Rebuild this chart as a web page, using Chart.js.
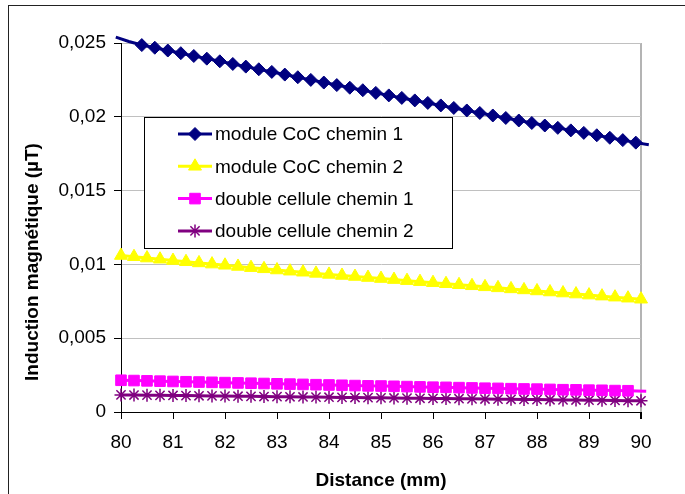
<!DOCTYPE html>
<html>
<head>
<meta charset="utf-8">
<script src="https://cdn.jsdelivr.net/npm/chart.js@4.4.0/dist/chart.umd.min.js"></script>
<style>
  body { margin: 0; background: #fff; }
  #wrap { position: relative; width: 685px; height: 494px; overflow: hidden; }
  #frame { position: absolute; left: 8px; top: 5px; width: 800px; height: 600px;
           border-left: 1px solid #222; border-top: 1px solid #222; pointer-events: none; }
</style>
</head>
<body>
<div id="wrap">
  <canvas id="chart" width="685" height="494"></canvas>
  <div id="frame"></div>
</div>
<script>
// distances (mm)
const distance = [80, 80.25, 80.5, 80.75, 81, 81.25, 81.5, 81.75, 82, 82.25, 82.5, 82.75,
  83, 83.25, 83.5, 83.75, 84, 84.25, 84.5, 84.75, 85, 85.25, 85.5, 85.75, 86, 86.25,
  86.5, 86.75, 87, 87.25, 87.5, 87.75, 88, 88.25, 88.5, 88.75, 89, 89.25, 89.5, 89.75, 90];
const cocPath1Distance = [79.9, 80.15, 80.4, 80.65, 80.9, 81.15, 81.4, 81.65, 81.9, 82.15,
  82.4, 82.65, 82.9, 83.15, 83.4, 83.65, 83.9, 84.15, 84.4, 84.65, 84.9, 85.15, 85.4,
  85.65, 85.9, 86.15, 86.4, 86.65, 86.9, 87.15, 87.4, 87.65, 87.9, 88.15, 88.4, 88.65,
  88.9, 89.15, 89.4, 89.65, 89.9, 90.15];
const cellPath1Distance = [80, 80.25, 80.5, 80.75, 81, 81.25, 81.5, 81.75, 82, 82.25, 82.5,
  82.75, 83, 83.25, 83.5, 83.75, 84, 84.25, 84.5, 84.75, 85, 85.25, 85.5, 85.75, 86,
  86.25, 86.5, 86.75, 87, 87.25, 87.5, 87.75, 88, 88.25, 88.5, 88.75, 89, 89.25, 89.5,
  89.75, 90.1];

// induction (µT)
const cocPath1 = [0.0254, 0.0251, 0.02486, 0.02468, 0.02449, 0.02431, 0.02412, 0.02394,
  0.02376, 0.02358, 0.0234, 0.02322, 0.02304, 0.02286, 0.02268, 0.0225, 0.02232, 0.02215,
  0.02197, 0.0218, 0.02162, 0.02145, 0.02128, 0.02111, 0.02094, 0.02077, 0.0206, 0.02043,
  0.02026, 0.02009, 0.01992, 0.01975, 0.01958, 0.01941, 0.01925, 0.01908, 0.01891,
  0.01875, 0.01858, 0.01842, 0.01825, 0.0181];
const cocPath2 = [0.0106, 0.01052, 0.01043, 0.01035, 0.01026, 0.01018, 0.0101, 0.01002,
  0.00994, 0.00986, 0.00978, 0.0097, 0.00962, 0.00954, 0.00947, 0.00939, 0.00932, 0.00925,
  0.00918, 0.00911, 0.00904, 0.00897, 0.0089, 0.00883, 0.00876, 0.00869, 0.00862, 0.00855,
  0.00848, 0.00841, 0.00834, 0.00827, 0.0082, 0.00813, 0.00806, 0.00799, 0.00792, 0.00785,
  0.00778, 0.00771, 0.00764];
const cellPath1 = [0.00215, 0.00213, 0.00211, 0.00209, 0.00207, 0.00205, 0.00203, 0.00201,
  0.00199, 0.00197, 0.00195, 0.00193, 0.00191, 0.00189, 0.00187, 0.00185, 0.00183, 0.00181,
  0.00179, 0.00177, 0.00176, 0.00174, 0.00172, 0.0017, 0.00168, 0.00167, 0.00165, 0.00163,
  0.00161, 0.0016, 0.00158, 0.00156, 0.00155, 0.00153, 0.00151, 0.0015, 0.00148, 0.00147,
  0.00145, 0.00144, 0.00141];
const cellPath2 = [0.00116, 0.00115, 0.00114, 0.00113, 0.00112, 0.00111, 0.0011, 0.00109,
  0.00108, 0.00107, 0.00106, 0.00105, 0.00104, 0.00103, 0.00102, 0.00101, 0.001, 0.00099,
  0.00098, 0.00097, 0.00096, 0.00095, 0.00094, 0.00093, 0.00092, 0.00091, 0.0009, 0.00089,
  0.00088, 0.00087, 0.00086, 0.00085, 0.00084, 0.00083, 0.00082, 0.00081, 0.0008, 0.00079,
  0.00078, 0.00077, 0.00076];

const seriesNames = ['module CoC chemin 1', 'module CoC chemin 2',
  'double cellule chemin 1', 'double cellule chemin 2'];
const xTitle = 'Distance (mm)';
const yTitle = 'Induction magnétique (µT)';

const FONT = '"Liberation Sans", Arial, sans-serif';
Chart.defaults.font.family = FONT;
Chart.defaults.color = '#000';

const toPoints = (xs, ys) => xs.map((x, i) => ({ x: x, y: ys[i] }));

// Excel does not draw markers that fall outside the plot area
const markerRadius = (r) => (ctx) => {
  const p = ctx.raw;
  if (!p || p.x < 80 || p.x > 90 || p.y > 0.025) return 0;
  return r;
};

const makeSet = (label, data, color, style, r, bw) => ({
  label: label,
  data: data,
  borderColor: color,
  backgroundColor: color,
  pointBackgroundColor: color,
  pointBorderColor: color,
  pointBorderWidth: bw,
  pointStyle: style,
  pointRadius: markerRadius(r),
  legendRadius: r,
  borderWidth: 3,
  tension: 0,
  clip: false
});

const legendBox = {
  id: 'legendBox',
  afterDraw(chart) {
    const ctx = chart.ctx;
    ctx.save();
    // y axis title, placed like Excel (a bit below centre)
    ctx.translate(33, 262);
    ctx.rotate(-Math.PI / 2);
    ctx.font = 'bold 19px ' + FONT;
    ctx.fillStyle = '#000';
    ctx.textAlign = 'center';
    ctx.textBaseline = 'middle';
    ctx.fillText(yTitle, 0, 0);
    ctx.restore();

    // legend inside plot
    ctx.save();
    ctx.fillStyle = '#fff';
    ctx.fillRect(144, 117, 308, 131);
    ctx.strokeStyle = '#000';
    ctx.lineWidth = 1;
    ctx.strokeRect(144.5, 117.5, 308, 131);
    ctx.font = '19px ' + FONT;
    ctx.textBaseline = 'middle';
    ctx.textAlign = 'left';
    chart.data.datasets.forEach((ds, i) => {
      const y = 134 + i * 32.3;
      ctx.strokeStyle = ds.borderColor;
      ctx.lineWidth = 3;
      ctx.beginPath();
      ctx.moveTo(178, y);
      ctx.lineTo(212, y);
      ctx.stroke();
      ctx.fillStyle = ds.borderColor;
      ctx.lineWidth = ds.pointBorderWidth;
      Chart.helpers.drawPoint(ctx, { pointStyle: ds.pointStyle, radius: ds.legendRadius,
        rotation: 0, borderWidth: ds.pointBorderWidth }, 195, y);
      ctx.fillStyle = '#000';
      ctx.fillText(ds.label, 215, y + 1);
    });
    ctx.restore();
  }
};

new Chart(document.getElementById('chart'), {
  type: 'line',
  data: {
    datasets: [
      makeSet(seriesNames[0], toPoints(cocPath1Distance, cocPath1), '#000080', 'rectRot', 6.5, 1),
      makeSet(seriesNames[1], toPoints(distance, cocPath2), '#ffff00', 'triangle', 7.5, 1),
      makeSet(seriesNames[2], toPoints(cellPath1Distance, cellPath1), '#ff00ff', 'rect', 7.5, 1),
      makeSet(seriesNames[3], toPoints(distance, cellPath2), '#800080', 'star', 6.5, 1.5)
    ]
  },
  options: {
    responsive: false,
    animation: false,
    layout: { padding: { left: 8, top: 43, right: 44, bottom: 0 } },
    plugins: { legend: { display: false }, tooltip: { enabled: false } },
    scales: {
      x: {
        type: 'linear',
        min: 80,
        max: 90,
        ticks: { stepSize: 1, color: '#000', font: { size: 19 }, padding: 12, maxRotation: 0 },
        grid: {
          color: (c) => (c.tick && c.tick.value === 90 ? '#b4b4b4' : 'rgba(0,0,0,0)'),
          lineWidth: (c) => (c.tick && c.tick.value === 90 ? 2 : 1),
          tickColor: '#000',
          tickLength: 7
        },
        border: { color: '#000', width: 1 },
        title: { display: true, text: xTitle, color: '#000',
          font: { size: 19, weight: 'bold' }, padding: { top: 0, bottom: 2 } },
        afterFit: (s) => { s.height = 82; }
      },
      y: {
        min: 0,
        max: 0.025,
        ticks: {
          stepSize: 0.005,
          color: '#000',
          font: { size: 19 },
          padding: 8,
          callback: (v) => (v === 0 ? '0' : v.toFixed(3).replace(/0+$/, '').replace('.', ','))
        },
        grid: { color: '#c0c0c0', tickColor: '#000', tickLength: 7 },
        border: { color: '#000', width: 1 },
        afterFit: (s) => { s.width = 113; }
      }
    }
  },
  plugins: [legendBox]
});
</script>
</body>
</html>
